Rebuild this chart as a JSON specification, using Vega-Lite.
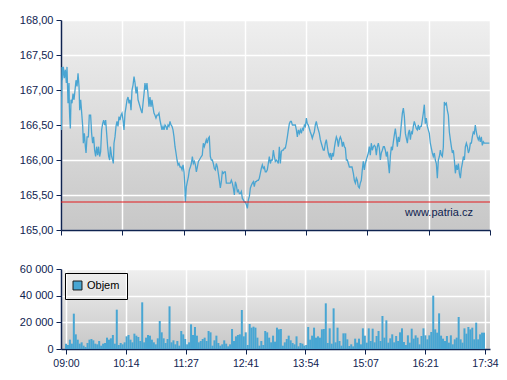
{
  "$schema": "https://vega.github.io/schema/vega-lite/v6.json",
  "padding": {"left": 19, "top": 14, "right": 3, "bottom": 5},
  "spacing": 27,
  "config": {
    "font": "Liberation Sans",
    "view": {"stroke": null, "fill": {"gradient": "linear", "x1": 0, "y1": 0, "x2": 0, "y2": 1, "stops": [{"offset": 0, "color": "#efefef"}, {"offset": 1, "color": "#c7c7c7"}]}},
    "axis": {"domainColor": "#0f2350", "tickColor": "#0f2350", "labelColor": "#0f2350", "gridColor": "#ffffff", "gridWidth": 1.5, "gridOpacity": 1, "labelFontSize": 11, "tickSize": 5, "domainWidth": 1.5, "labelPadding": 3, "labelFlush": false, "labelOverlap": false, "labelBound": false}
  },
  "resolve": {"scale": {"color": "independent"}, "legend": {"color": "independent"}},
  "datasets": {
    "price": [
      {"m":0,"p":166.67},{"m":0.4,"p":166.43},{"m":1.2,"p":167.33},{"m":1.6,"p":167.14},{"m":2.8,"p":167.33},{"m":4.0,"p":167.17},{"m":5.2,"p":167.29},{"m":6.4,"p":167.10},{"m":7.2,"p":167.33},{"m":8.4,"p":166.81},{"m":9.6,"p":167.10},{"m":10.0,"p":166.76},{"m":10.4,"p":166.62},{"m":11.2,"p":166.45},{"m":12.0,"p":166.86},{"m":13.2,"p":166.81},{"m":14.4,"p":166.95},{"m":15.6,"p":166.86},{"m":16.8,"p":167.00},{"m":18.0,"p":167.14},{"m":19.2,"p":167.05},{"m":20.4,"p":167.24},{"m":21.6,"p":167.05},{"m":22.4,"p":166.71},{"m":23.6,"p":166.86},{"m":24.8,"p":166.67},{"m":26.0,"p":166.48},{"m":26.8,"p":166.24},{"m":28.0,"p":166.38},{"m":29.2,"p":166.19},{"m":30.0,"p":166.10},{"m":31.2,"p":166.33},{"m":32.8,"p":166.33},{"m":33.9,"p":166.64},{"m":35.5,"p":166.64},{"m":36.7,"p":166.38},{"m":37.9,"p":166.24},{"m":39.1,"p":166.33},{"m":40.3,"p":166.14},{"m":41.5,"p":166.05},{"m":42.7,"p":166.19},{"m":43.9,"p":166.07},{"m":45.1,"p":166.19},{"m":46.3,"p":166.05},{"m":47.5,"p":166.12},{"m":48.7,"p":166.43},{"m":49.9,"p":166.52},{"m":51.1,"p":166.57},{"m":52.3,"p":166.50},{"m":53.5,"p":166.57},{"m":54.7,"p":166.38},{"m":55.9,"p":166.19},{"m":57.1,"p":166.05},{"m":58.3,"p":166.00},{"m":59.1,"p":166.19},{"m":60.7,"p":166.05},{"m":61.9,"p":166.00},{"m":62.7,"p":165.95},{"m":63.5,"p":166.24},{"m":64.7,"p":166.33},{"m":65.9,"p":166.48},{"m":67.1,"p":166.55},{"m":68.3,"p":166.48},{"m":69.5,"p":166.62},{"m":70.7,"p":166.57},{"m":71.9,"p":166.64},{"m":73.1,"p":166.67},{"m":74.3,"p":166.57},{"m":75.5,"p":166.43},{"m":76.7,"p":166.67},{"m":77.9,"p":166.76},{"m":79.1,"p":166.86},{"m":80.3,"p":166.90},{"m":81.5,"p":166.81},{"m":82.7,"p":166.86},{"m":83.9,"p":166.71},{"m":85.1,"p":167.00},{"m":86.3,"p":167.07},{"m":87.5,"p":167.19},{"m":88.7,"p":167.10},{"m":89.9,"p":166.95},{"m":91.1,"p":167.05},{"m":92.3,"p":166.86},{"m":93.5,"p":166.81},{"m":94.7,"p":166.76},{"m":95.9,"p":166.71},{"m":97.1,"p":166.67},{"m":98.3,"p":166.81},{"m":99.5,"p":166.95},{"m":100.6,"p":167.10},{"m":101.8,"p":167.00},{"m":103.0,"p":167.10},{"m":104.2,"p":166.95},{"m":105.4,"p":166.76},{"m":106.6,"p":166.90},{"m":107.8,"p":166.76},{"m":109.0,"p":166.86},{"m":110.2,"p":166.76},{"m":111.4,"p":166.67},{"m":112.6,"p":166.64},{"m":113.8,"p":166.60},{"m":115.0,"p":166.64},{"m":116.2,"p":166.64},{"m":117.4,"p":166.67},{"m":118.6,"p":166.57},{"m":119.8,"p":166.50},{"m":121.0,"p":166.43},{"m":122.2,"p":166.48},{"m":123.4,"p":166.43},{"m":124.6,"p":166.50},{"m":125.8,"p":166.48},{"m":127.0,"p":166.43},{"m":128.2,"p":166.50},{"m":129.4,"p":166.48},{"m":130.6,"p":166.55},{"m":131.8,"p":166.50},{"m":133.0,"p":166.48},{"m":134.2,"p":166.43},{"m":135.4,"p":166.33},{"m":136.6,"p":166.19},{"m":137.8,"p":166.10},{"m":139.0,"p":166.00},{"m":140.2,"p":165.93},{"m":141.4,"p":165.95},{"m":142.6,"p":165.90},{"m":143.8,"p":165.90},{"m":145.0,"p":165.86},{"m":146.2,"p":165.93},{"m":147.4,"p":165.83},{"m":148.2,"p":165.67},{"m":149.0,"p":165.40},{"m":150.2,"p":165.62},{"m":151.4,"p":165.69},{"m":152.6,"p":165.76},{"m":153.8,"p":165.86},{"m":155.0,"p":165.90},{"m":156.2,"p":165.95},{"m":157.4,"p":166.05},{"m":158.6,"p":165.95},{"m":159.8,"p":165.98},{"m":161.0,"p":165.93},{"m":162.2,"p":165.83},{"m":163.4,"p":165.90},{"m":164.6,"p":165.98},{"m":165.7,"p":166.00},
      {"m":168.1,"p":166.05},{"m":169.3,"p":166.07},{"m":170.5,"p":166.24},{"m":171.7,"p":166.19},{"m":172.9,"p":166.24},{"m":174.1,"p":166.29},{"m":175.3,"p":166.24},{"m":176.5,"p":166.31},{"m":177.7,"p":166.33},{"m":178.9,"p":166.05},{"m":180.1,"p":166.00},{"m":181.3,"p":166.00},{"m":182.5,"p":165.95},{"m":183.7,"p":165.88},{"m":184.9,"p":165.86},{"m":186.1,"p":165.95},{"m":187.3,"p":165.90},{"m":188.5,"p":165.81},{"m":189.7,"p":165.71},{"m":190.9,"p":165.60},{"m":192.1,"p":165.69},{"m":193.3,"p":165.83},{"m":194.5,"p":165.81},{"m":195.7,"p":165.83},{"m":196.9,"p":165.83},{"m":198.1,"p":165.67},{"m":200.5,"p":165.67},{"m":202.9,"p":165.67},{"m":204.1,"p":165.71},{"m":205.3,"p":165.67},{"m":206.5,"p":165.60},{"m":207.7,"p":165.50},{"m":208.9,"p":165.69},{"m":210.1,"p":165.64},{"m":211.3,"p":165.55},{"m":212.5,"p":165.57},{"m":213.7,"p":165.52},{"m":214.9,"p":165.52},{"m":216.1,"p":165.55},{"m":217.3,"p":165.45},{"m":218.5,"p":165.43},{"m":219.7,"p":165.40},{"m":220.9,"p":165.40},{"m":222.1,"p":165.36},{"m":223.3,"p":165.31},{"m":224.5,"p":165.43},{"m":225.7,"p":165.48},{"m":226.9,"p":165.60},{"m":228.1,"p":165.64},{"m":229.3,"p":165.67},{"m":230.5,"p":165.69},{"m":231.6,"p":165.62},{"m":232.8,"p":165.69},{"m":234.0,"p":165.69},{"m":235.2,"p":165.71},{"m":236.4,"p":165.71},{"m":237.6,"p":165.74},{"m":238.8,"p":165.81},{"m":240.0,"p":165.88},{"m":241.2,"p":165.93},{"m":242.4,"p":165.88},{"m":243.6,"p":165.90},{"m":244.8,"p":165.83},{"m":246.0,"p":165.83},{"m":247.2,"p":165.86},{"m":248.4,"p":165.95},{"m":249.6,"p":166.05},{"m":250.8,"p":165.95},{"m":252.0,"p":166.00},{"m":253.2,"p":166.00},{"m":254.4,"p":166.14},{"m":255.6,"p":166.05},{"m":256.8,"p":165.98},{"m":258.0,"p":166.00},{"m":259.2,"p":165.98},{"m":260.4,"p":165.95},{"m":261.6,"p":166.19},{"m":262.8,"p":165.95},{"m":264.0,"p":166.12},{"m":265.2,"p":166.14},{"m":266.4,"p":166.14},{"m":267.6,"p":166.17},{"m":268.8,"p":166.17},{"m":270.0,"p":166.24},{"m":271.2,"p":166.33},{"m":272.4,"p":166.43},{"m":273.6,"p":166.52},{"m":274.8,"p":166.55},{"m":276.0,"p":166.55},{"m":277.2,"p":166.50},{"m":280.8,"p":166.50},{"m":282.0,"p":166.43},{"m":283.2,"p":166.33},{"m":284.4,"p":166.43},{"m":285.6,"p":166.38},{"m":286.8,"p":166.43},{"m":288.0,"p":166.38},{"m":289.2,"p":166.45},{"m":290.4,"p":166.43},{"m":291.6,"p":166.50},{"m":292.8,"p":166.48},{"m":294.0,"p":166.60},{"m":295.1,"p":166.52},{"m":296.3,"p":166.50},{"m":297.5,"p":166.45},{"m":298.7,"p":166.40},{"m":299.9,"p":166.36},{"m":301.1,"p":166.31},{"m":302.3,"p":166.36},{"m":303.5,"p":166.40},{"m":304.7,"p":166.50},{"m":305.9,"p":166.55},{"m":307.1,"p":166.48},{"m":308.3,"p":166.43},{"m":309.5,"p":166.38},{"m":310.7,"p":166.29},{"m":311.9,"p":166.24},{"m":313.1,"p":166.19},{"m":314.3,"p":166.14},{"m":315.5,"p":166.14},{"m":316.7,"p":166.24},{"m":317.9,"p":166.29},{"m":319.1,"p":166.19},{"m":320.3,"p":166.10},{"m":321.5,"p":166.05},{"m":322.7,"p":166.10},{"m":323.9,"p":166.00},{"m":325.1,"p":166.10},{"m":326.3,"p":166.05},{"m":327.5,"p":166.17},{"m":328.7,"p":166.26},{"m":329.9,"p":166.33},{"m":331.1,"p":166.29},{"m":332.3,"p":166.19},{"m":333.5,"p":166.29},{"m":334.7,"p":166.33},{"m":335.9,"p":166.29},{"m":337.1,"p":166.19},{"m":338.3,"p":166.26},{"m":339.5,"p":166.19},{"m":340.7,"p":166.17},{"m":341.9,"p":166.00},{"m":343.1,"p":166.00},{"m":344.3,"p":165.95},{"m":345.5,"p":165.90},
      {"m":347.5,"p":165.90},{"m":348.7,"p":165.90},{"m":350.3,"p":165.81},{"m":351.5,"p":165.71},{"m":352.7,"p":165.67},{"m":353.9,"p":165.74},{"m":355.0,"p":165.71},{"m":356.2,"p":165.62},{"m":357.4,"p":165.60},{"m":358.6,"p":165.67},{"m":359.8,"p":165.71},{"m":361.0,"p":165.86},{"m":362.2,"p":165.98},{"m":363.4,"p":165.86},{"m":364.6,"p":165.95},{"m":365.8,"p":166.00},{"m":367.0,"p":166.05},{"m":368.2,"p":166.10},{"m":369.4,"p":166.19},{"m":370.6,"p":166.07},{"m":371.8,"p":166.24},{"m":373.0,"p":166.14},{"m":374.2,"p":166.19},{"m":375.4,"p":166.21},{"m":376.6,"p":166.19},{"m":377.8,"p":166.07},{"m":379.0,"p":166.19},{"m":380.2,"p":166.24},{"m":381.4,"p":166.17},{"m":382.6,"p":166.00},{"m":383.8,"p":166.10},{"m":385.0,"p":166.14},{"m":386.2,"p":166.19},{"m":387.4,"p":166.19},{"m":388.6,"p":166.14},{"m":389.8,"p":166.05},{"m":391.0,"p":166.12},{"m":392.2,"p":165.95},{"m":393.4,"p":165.81},{"m":394.6,"p":166.05},{"m":395.8,"p":166.19},{"m":397.0,"p":166.14},{"m":398.2,"p":166.26},{"m":399.4,"p":166.36},{"m":400.6,"p":166.45},{"m":401.8,"p":166.33},{"m":403.0,"p":166.19},{"m":404.2,"p":166.33},{"m":405.4,"p":166.26},{"m":406.6,"p":166.36},{"m":407.8,"p":166.52},{"m":409.0,"p":166.67},{"m":410.2,"p":166.74},{"m":411.4,"p":166.62},{"m":412.6,"p":166.38},{"m":413.8,"p":166.31},{"m":415.0,"p":166.24},{"m":416.2,"p":166.38},{"m":417.4,"p":166.43},{"m":418.6,"p":166.29},{"m":419.8,"p":166.40},{"m":421.0,"p":166.38},{"m":422.1,"p":166.48},{"m":423.3,"p":166.55},{"m":424.5,"p":166.50},{"m":425.7,"p":166.45},{"m":426.9,"p":166.43},{"m":428.1,"p":166.50},{"m":429.3,"p":166.43},{"m":430.5,"p":166.48},{"m":431.7,"p":166.48},{"m":432.9,"p":166.57},{"m":434.1,"p":166.67},{"m":435.3,"p":166.79},{"m":436.5,"p":166.52},{"m":437.7,"p":166.60},{"m":438.9,"p":166.48},{"m":440.1,"p":166.43},{"m":441.3,"p":166.38},{"m":442.5,"p":166.24},{"m":443.7,"p":166.17},{"m":444.9,"p":166.10},{"m":446.1,"p":166.05},{"m":447.3,"p":166.10},{"m":448.5,"p":166.00},{"m":449.7,"p":165.95},{"m":450.9,"p":165.74},{"m":452.1,"p":166.00},{"m":453.3,"p":166.05},{"m":454.5,"p":166.14},{"m":455.7,"p":166.07},{"m":456.9,"p":166.05},{"m":458.1,"p":166.19},{"m":459.3,"p":166.83},{"m":460.5,"p":166.79},{"m":461.7,"p":166.81},{"m":462.9,"p":166.71},{"m":464.1,"p":166.64},{"m":465.3,"p":166.40},{"m":466.5,"p":166.29},{"m":467.7,"p":166.19},{"m":468.9,"p":166.10},{"m":470.1,"p":166.14},{"m":471.3,"p":166.00},{"m":472.5,"p":165.81},{"m":473.7,"p":165.93},{"m":474.9,"p":165.86},{"m":476.1,"p":165.95},{"m":477.3,"p":165.81},{"m":478.5,"p":165.74},{"m":479.7,"p":165.88},{"m":480.9,"p":165.95},{"m":482.1,"p":166.05},{"m":483.3,"p":166.00},{"m":484.5,"p":166.19},{"m":485.7,"p":166.24},{"m":486.9,"p":166.19},{"m":488.1,"p":166.10},{"m":489.3,"p":166.14},{"m":490.5,"p":166.24},{"m":491.7,"p":166.24},{"m":492.8,"p":166.33},{"m":494.0,"p":166.40},{"m":495.2,"p":166.38},{"m":496.4,"p":166.50},{"m":497.6,"p":166.40},{"m":498.8,"p":166.33},{"m":500.0,"p":166.29},{"m":501.2,"p":166.33},{"m":502.4,"p":166.26},{"m":503.6,"p":166.33},{"m":504.8,"p":166.21},{"m":506.0,"p":166.26},{"m":507.2,"p":166.24},{"m":508.4,"p":166.24},{"m":509.6,"p":166.24},{"m":513.2,"p":166.24}
    ],
    "volume": [
      {"m":0,"v":4000},{"m":2.4,"v":3000},{"m":4.8,"v":7000},{"m":7.2,"v":4000},{"m":9.6,"v":26500},{"m":12.0,"v":11000},{"m":14.4,"v":7000},{"m":16.8,"v":4000},{"m":19.2,"v":5000},{"m":21.6,"v":2500},
      {"m":24.0,"v":1500},{"m":26.4,"v":4500},{"m":28.8,"v":7000},{"m":31.2,"v":7500},{"m":33.5,"v":6500},{"m":35.9,"v":4000},{"m":38.3,"v":3500},{"m":40.7,"v":6000},{"m":43.1,"v":2500},{"m":45.5,"v":4000},
      {"m":47.9,"v":4500},{"m":50.3,"v":8500},{"m":52.7,"v":7000},{"m":55.1,"v":8000},{"m":57.5,"v":10500},{"m":59.9,"v":4000},{"m":62.3,"v":29500},{"m":64.7,"v":3000},{"m":67.1,"v":4500},{"m":69.5,"v":3500},
      {"m":71.9,"v":5000},{"m":74.3,"v":9500},{"m":76.7,"v":10500},{"m":79.1,"v":7000},{"m":81.5,"v":5000},{"m":83.9,"v":11500},{"m":86.3,"v":10000},{"m":88.7,"v":9000},{"m":91.1,"v":6000},{"m":93.5,"v":35000},
      {"m":95.9,"v":5000},{"m":98.2,"v":8500},{"m":100.6,"v":10500},{"m":103.0,"v":10000},{"m":105.4,"v":7000},{"m":107.8,"v":5000},{"m":110.2,"v":3500},{"m":112.6,"v":8000},{"m":115.0,"v":21000},{"m":117.4,"v":12500},
      {"m":119.8,"v":8000},{"m":122.2,"v":4500},{"m":124.6,"v":7500},{"m":127.0,"v":32000},{"m":129.4,"v":5000},{"m":131.8,"v":6500},{"m":134.2,"v":3500},{"m":136.6,"v":6000},{"m":139.0,"v":2500},{"m":141.4,"v":13500},
      {"m":143.8,"v":11000},{"m":146.2,"v":7500},{"m":148.6,"v":3500},{"m":151.0,"v":5000},{"m":153.4,"v":18500},{"m":155.8,"v":10500},{"m":158.2,"v":16500},{"m":160.6,"v":10000},{"m":162.9,"v":5000},{"m":165.3,"v":6000},
      {"m":167.7,"v":7500},{"m":170.1,"v":8500},{"m":172.5,"v":6000},{"m":174.9,"v":13500},{"m":177.3,"v":12500},{"m":179.7,"v":2500},{"m":182.1,"v":6500},{"m":184.5,"v":10000},{"m":186.9,"v":4500},{"m":189.3,"v":2500},
      {"m":191.7,"v":3500},{"m":194.1,"v":6500},{"m":196.5,"v":4000},{"m":198.9,"v":2000},{"m":201.3,"v":3500},{"m":203.7,"v":15000},{"m":206.1,"v":6000},{"m":208.5,"v":9500},{"m":210.9,"v":10500},{"m":213.3,"v":11000},
      {"m":215.7,"v":29250},{"m":218.1,"v":9500},{"m":220.5,"v":12500},{"m":222.9,"v":3000},{"m":225.3,"v":18750},{"m":227.6,"v":16000},{"m":230.0,"v":16750},{"m":232.4,"v":16000},{"m":234.8,"v":8500},{"m":237.2,"v":2500},
      {"m":239.6,"v":6000},{"m":242.0,"v":3000},{"m":244.4,"v":13500},{"m":246.8,"v":12500},{"m":249.2,"v":8500},{"m":251.6,"v":5000},{"m":254.0,"v":10000},{"m":256.4,"v":5500},{"m":258.8,"v":16000},{"m":261.2,"v":14750},
      {"m":263.6,"v":15000},{"m":266.0,"v":2500},{"m":268.4,"v":5000},{"m":270.8,"v":7500},{"m":273.2,"v":10000},{"m":275.6,"v":6500},{"m":278.0,"v":4500},{"m":280.4,"v":3500},{"m":282.8,"v":9500},{"m":285.2,"v":2000},
      {"m":287.6,"v":4500},{"m":290.0,"v":4000},{"m":292.3,"v":2500},{"m":294.7,"v":3000},{"m":297.1,"v":16500},{"m":299.5,"v":7000},{"m":301.9,"v":10000},{"m":304.3,"v":16000},{"m":306.7,"v":8500},{"m":309.1,"v":9500},
      {"m":311.5,"v":8500},{"m":313.9,"v":14750},{"m":316.3,"v":15000},{"m":318.7,"v":34250},{"m":321.1,"v":4500},{"m":323.5,"v":15500},{"m":325.9,"v":4000},{"m":328.3,"v":30500},{"m":330.7,"v":5000},{"m":333.1,"v":16000},
      {"m":335.5,"v":6000},{"m":337.9,"v":2500},{"m":340.3,"v":11750},{"m":342.7,"v":11750},{"m":345.1,"v":7250},{"m":347.5,"v":2250},{"m":349.9,"v":3500},{"m":352.3,"v":2000},{"m":354.7,"v":7750},{"m":357.1,"v":4750},
      {"m":359.4,"v":7750},{"m":361.8,"v":3500},{"m":364.2,"v":15500},{"m":366.6,"v":10000},{"m":369.0,"v":4750},{"m":371.4,"v":15500},{"m":373.8,"v":6000},{"m":376.2,"v":15250},{"m":378.6,"v":5000},{"m":381.0,"v":9750},
      {"m":383.4,"v":13500},{"m":385.8,"v":6000},{"m":388.2,"v":24750},{"m":390.6,"v":8500},{"m":393.0,"v":21500},{"m":395.4,"v":4750},{"m":397.8,"v":8000},{"m":400.2,"v":11000},{"m":402.6,"v":5000},{"m":405.0,"v":9750},
      {"m":407.4,"v":6000},{"m":409.8,"v":12500},{"m":412.2,"v":15500},{"m":414.6,"v":5250},{"m":417.0,"v":3000},{"m":419.4,"v":10250},{"m":421.7,"v":4750},{"m":424.1,"v":15250},{"m":426.5,"v":7750},{"m":428.9,"v":10250},
      {"m":431.3,"v":8500},{"m":433.7,"v":3500},{"m":436.1,"v":9750},{"m":438.5,"v":15500},{"m":440.9,"v":10250},{"m":443.3,"v":7250},{"m":445.7,"v":10250},{"m":448.1,"v":12750},{"m":450.5,"v":40000},{"m":452.9,"v":14750},
      {"m":455.3,"v":12250},{"m":457.7,"v":26750},{"m":460.1,"v":10000},{"m":462.5,"v":7750},{"m":464.9,"v":6000},{"m":467.3,"v":9750},{"m":469.7,"v":4750},{"m":472.1,"v":10250},{"m":474.5,"v":3500},{"m":476.9,"v":7250},
      {"m":479.3,"v":8500},{"m":481.7,"v":24000},{"m":484.1,"v":7250},{"m":486.4,"v":4750},{"m":488.8,"v":15500},{"m":491.2,"v":11500},{"m":493.6,"v":16500},{"m":496.0,"v":14750},{"m":498.4,"v":16000},{"m":500.8,"v":7250},
      {"m":503.2,"v":19750},{"m":505.6,"v":7250},{"m":508.0,"v":11000},{"m":510.4,"v":12250},{"m":512.8,"v":12250}
    ]
  },
  "vconcat": [
    {
      "width": 429,
      "height": 210,
      "encoding": {
        "x": {"type": "quantitative", "title": null, "scale": {"domain": [0, 514], "nice": false, "zero": false},
              "axis": {"values": [0, 73.43, 146.86, 220.29, 293.71, 367.14, 440.57, 514], "labels": false, "grid": true}},
        "y": {"type": "quantitative", "title": null, "scale": {"domain": [165, 168], "nice": false, "zero": false},
              "axis": {"values": [165, 165.5, 166, 166.5, 167, 167.5, 168], "grid": true, "labelExpr": "replace(format(datum.value, '.2f'), '.', ',')"}}
      },
      "layer": [
        {
          "data": {"name": "price"},
          "mark": {"type": "line", "color": "#4aa5d2", "strokeWidth": 1.3, "clip": true},
          "encoding": {"x": {"field": "m"}, "y": {"field": "p"}}
        },
        {
          "data": {"values": [{"ref": 165.4}]},
          "mark": {"type": "rule", "color": "#e31a1c", "strokeWidth": 1},
          "encoding": {"y": {"field": "ref"}}
        },
        {
          "data": {"values": [{"label": "www.patria.cz", "m": 493.6, "p": 165.24}]},
          "mark": {"type": "text", "align": "right", "baseline": "middle", "fontSize": 11, "color": "#0f2350"},
          "encoding": {"x": {"field": "m"}, "y": {"field": "p"}, "text": {"field": "label"}}
        }
      ]
    },
    {
      "width": 429,
      "height": 80,
      "data": {"name": "volume"},
      "mark": {"type": "bar", "size": 2, "clip": true},
      "encoding": {
        "x": {"field": "m", "type": "quantitative", "title": null, "scale": {"domain": [0, 514], "nice": false, "zero": false},
              "axis": {"values": [0, 73.43, 146.86, 220.29, 293.71, 367.14, 440.57, 514], "grid": true, "labelFontSize": 10.5, "labelPadding": 4,
                       "labelExpr": "['09:00','10:14','11:27','12:41','13:54','15:07','16:21','17:34'][round(datum.value / 73.43)]"}},
        "y": {"field": "v", "type": "quantitative", "title": null, "stack": null, "scale": {"domain": [0, 60000], "nice": false},
              "axis": {"values": [0, 20000, 40000, 60000], "grid": true, "labelExpr": "replace(format(datum.value, ','), ',', ' ')"}},
        "color": {"datum": "Objem", "type": "nominal", "scale": {"range": ["#48a6d3"]},
                  "legend": {"title": null, "orient": "top-left", "offset": 4, "padding": 7, "strokeColor": "#000000", "cornerRadius": 0,
                             "symbolType": "square", "symbolSize": 80, "symbolStrokeColor": "#1a1a1a", "symbolStrokeWidth": 1, "labelFontSize": 11, "labelColor": "#000000", "labelOffset": 4}}
      }
    }
  ]
}
